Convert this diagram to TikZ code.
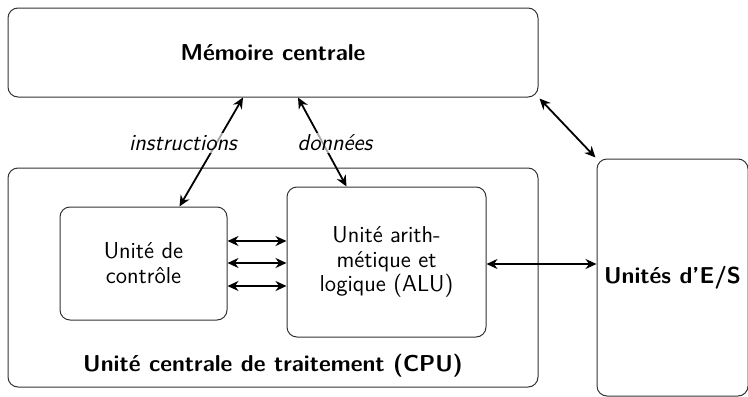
\documentclass[tikz,border=0pt]{standalone}
\usepackage{fontspec}
\usetikzlibrary{arrows.meta}
\begin{document}
\begin{tikzpicture}[x=0.5pt, y=-0.5pt, font=\sffamily\fontsize{11.5}{12.4}\selectfont,
  bloc/.style={draw=black!80, line width=0.5pt, rounded corners=5pt, align=center, inner sep=0pt},
  fleche/.style={{Stealth[length=5.5pt,width=5pt]}-{Stealth[length=5.5pt,width=5pt]}, line width=0.9pt},
  gras/.style={font=\sffamily\bfseries\fontsize{11.5}{12.4}\selectfont},
  etiq/.style={fill=white, fill opacity=0.65, text opacity=1, inner sep=1pt, font=\sffamily\itshape\fontsize{11.5}{12.4}\selectfont}]
\useasboundingbox (0,0) rectangle (748,396);
\node[bloc, gras, minimum width=265pt, minimum height=44.5pt] (mem) at (273,52.5) {Mémoire centrale};
\node[bloc, minimum width=265pt, minimum height=109.5pt] (cpu) at (273,277.5) {};
\node[gras] (cpulbl) at (273,366) {Unité centrale de traitement (CPU)};
\node[bloc, minimum width=83.5pt, minimum height=56.5pt] (ctrl) at (143.5,263.5) {Unité de\\contrôle};
\node[bloc, minimum width=99.5pt, minimum height=75pt] (alu) at (386.5,262) {Unité arith-\\métique et\\logique (ALU)};
\node[bloc, gras, minimum width=75.5pt, minimum height=118.5pt] (io) at (672.5,277.5) {\raisebox{2.5pt}{Unités d'E/S}};
% liaisons memoire
\draw[fleche] ([xshift=-15pt]mem.south) -- ([xshift=18pt]ctrl.north);
\draw[fleche] ([xshift=12.5pt]mem.south) -- ([xshift=-20pt]alu.north);
\node[etiq] (instr) at (183,143) {instructions};
\node[etiq] (donnees) at (335,143) {données};
% liaisons internes
\foreach \yy in {241,263,286}
  \draw[fleche] (ctrl.east |- 0,\yy) -- (alu.west |- 0,\yy);
\draw[fleche] (alu.east |- 0,264) -- (io.west |- 0,264);
\draw[fleche] ([shift={(1,1)}]mem.south east) -- ([shift={(-1,-1)}]io.north west);
\end{tikzpicture}
\end{document}
